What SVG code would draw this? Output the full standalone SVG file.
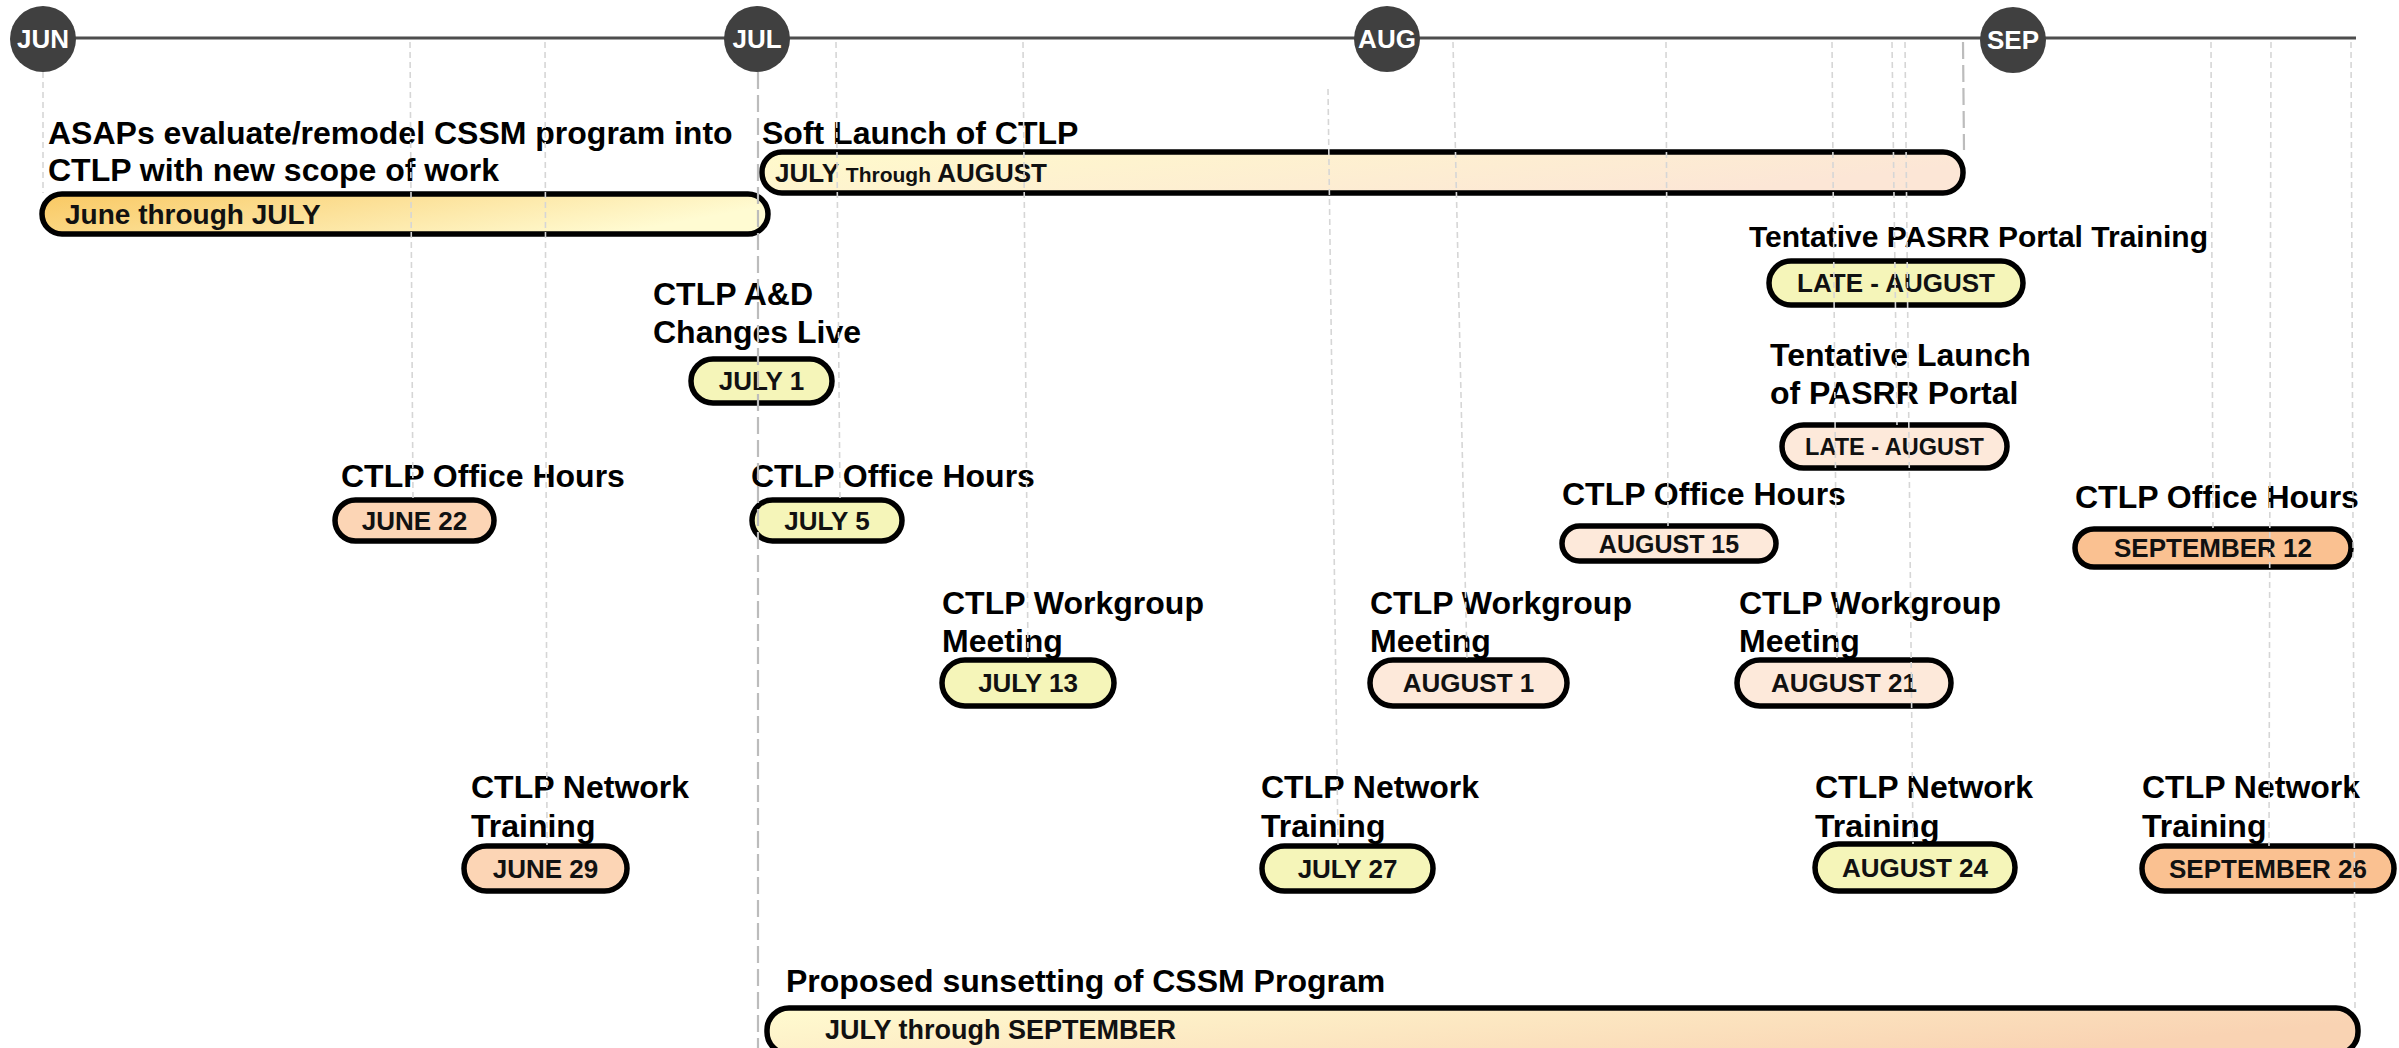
<svg xmlns="http://www.w3.org/2000/svg" width="2399" height="1048" viewBox="0 0 2399 1048">
<defs>
<linearGradient id="gJun" x1="0" y1="0" x2="1" y2="0.3"><stop offset="0" stop-color="#f9c862"/><stop offset="1" stop-color="#fffbd2"/></linearGradient>
<linearGradient id="gSoft" x1="0" y1="0" x2="1" y2="0.3"><stop offset="0" stop-color="#fffacb"/><stop offset="1" stop-color="#fce6d6"/></linearGradient>
<linearGradient id="gSun" x1="0" y1="0" x2="1" y2="0.3"><stop offset="0" stop-color="#fffbd0"/><stop offset="1" stop-color="#f9d3b3"/></linearGradient>
<style>
.lbl{font-family:"Liberation Sans",Arial,sans-serif;font-weight:bold;font-size:32px;fill:#000}
.pt{font-family:"Liberation Sans",Arial,sans-serif;font-weight:bold;font-size:26px;fill:#111;text-anchor:middle}
.bt{font-family:"Liberation Sans",Arial,sans-serif;font-weight:bold;font-size:26px;fill:#111}
.mt{font-family:"Liberation Sans",Arial,sans-serif;font-weight:bold;font-size:26px;fill:#fff;text-anchor:middle}
.pill{stroke:#000;stroke-width:5.5}
.yel{fill:#f5f5b9}.pch{fill:#fcd5b5}.lpc{fill:#fde9da}.org{fill:#fac191}
.conn{stroke:#d6d6d6;stroke-width:1.6;stroke-dasharray:6 4;fill:none}
.conn2{stroke:#bcbcbc;stroke-width:2.2;stroke-dasharray:17 6;fill:none}
.mon{fill:#404040}
</style>
</defs>
<rect width="2399" height="1048" fill="#fff"/>
<g id="timeline">
<line x1="43" y1="38" x2="2356" y2="38" stroke="#4d4d4d" stroke-width="3"/>
</g>
<g id="month-jun"><circle class="mon" cx="43" cy="39" r="33"/><text class="mt" x="43" y="48">JUN</text></g>
<g id="month-jul"><circle class="mon" cx="757" cy="39" r="33"/><text class="mt" x="757" y="48">JUL</text></g>
<g id="month-aug"><circle class="mon" cx="1387" cy="39" r="33"/><text class="mt" x="1387" y="48">AUG</text></g>
<g id="month-sep"><circle class="mon" cx="2013" cy="40" r="33"/><text class="mt" x="2013" y="49">SEP</text></g>

<g id="bar-asaps">
<text class="lbl" x="48" y="144">ASAPs evaluate/remodel CSSM program into</text>
<text class="lbl" x="48" y="181">CTLP with new scope of work</text>
<rect class="pill" x="42" y="194" width="726" height="40" rx="20" fill="url(#gJun)"/>
<text class="bt" x="65" y="224" style="font-size:28px">June through JULY</text>
</g>
<g id="bar-soft">
<text class="lbl" x="762" y="144">Soft Launch of CTLP</text>
<rect class="pill" x="762" y="152" width="1201" height="41" rx="20" fill="url(#gSoft)"/>
<text class="bt" x="775" y="182">JULY <tspan style="font-size:21px">Through</tspan> AUGUST</text>
</g>
<g id="bar-sunset">
<text class="lbl" x="786" y="992">Proposed sunsetting of CSSM Program</text>
<rect class="pill" x="767" y="1008" width="1591" height="46" rx="22" fill="url(#gSun)"/>
<text class="bt" x="825" y="1039" style="font-size:27px">JULY through SEPTEMBER</text>
</g>

<g id="ev-ad">
<text class="lbl" x="653" y="305">CTLP A&amp;D</text>
<text class="lbl" x="653" y="343">Changes Live</text>
<rect class="pill yel" x="691" y="359" width="141" height="44" rx="22"/>
<text class="pt" x="761.5" y="390">JULY 1</text>
</g>
<g id="ev-oh-jun22">
<text class="lbl" x="341" y="487">CTLP Office Hours</text>
<rect class="pill pch" x="335" y="500" width="159" height="41" rx="20.5"/>
<text class="pt" x="414.5" y="530">JUNE 22</text>
</g>
<g id="ev-oh-jul5">
<text class="lbl" x="751" y="487">CTLP Office Hours</text>
<rect class="pill yel" x="752" y="500" width="150" height="41" rx="20.5"/>
<text class="pt" x="827" y="530">JULY 5</text>
</g>
<g id="ev-oh-aug15">
<text class="lbl" x="1562" y="505">CTLP Office Hours</text>
<rect class="pill lpc" x="1562" y="526" width="214" height="35" rx="17.5"/>
<text class="pt" x="1669" y="553" style="font-size:25px">AUGUST 15</text>
</g>
<g id="ev-oh-sep12">
<text class="lbl" x="2075" y="508">CTLP Office Hours</text>
<rect class="pill org" x="2075" y="529" width="276" height="38" rx="19"/>
<text class="pt" x="2213" y="557">SEPTEMBER 12</text>
</g>
<g id="ev-wg-jul13">
<text class="lbl" x="942" y="614">CTLP Workgroup</text>
<text class="lbl" x="942" y="652">Meeting</text>
<rect class="pill yel" x="942" y="660" width="172" height="46" rx="23"/>
<text class="pt" x="1028" y="692">JULY 13</text>
</g>
<g id="ev-wg-aug1">
<text class="lbl" x="1370" y="614">CTLP Workgroup</text>
<text class="lbl" x="1370" y="652">Meeting</text>
<rect class="pill lpc" x="1370" y="660" width="197" height="46" rx="23"/>
<text class="pt" x="1468.5" y="692">AUGUST 1</text>
</g>
<g id="ev-wg-aug21">
<text class="lbl" x="1739" y="614">CTLP Workgroup</text>
<text class="lbl" x="1739" y="652">Meeting</text>
<rect class="pill lpc" x="1737" y="660" width="214" height="46" rx="23"/>
<text class="pt" x="1844" y="692">AUGUST 21</text>
</g>
<g id="ev-nt-jun29">
<text class="lbl" x="471" y="798">CTLP Network</text>
<text class="lbl" x="471" y="837">Training</text>
<rect class="pill pch" x="464" y="846" width="163" height="45" rx="22.5"/>
<text class="pt" x="545.5" y="878">JUNE 29</text>
</g>
<g id="ev-nt-jul27">
<text class="lbl" x="1261" y="798">CTLP Network</text>
<text class="lbl" x="1261" y="837">Training</text>
<rect class="pill yel" x="1262" y="846" width="171" height="45" rx="22.5"/>
<text class="pt" x="1347.5" y="878">JULY 27</text>
</g>
<g id="ev-nt-aug24">
<text class="lbl" x="1815" y="798">CTLP Network</text>
<text class="lbl" x="1815" y="837">Training</text>
<rect class="pill yel" x="1815" y="844" width="200" height="47" rx="23.5"/>
<text class="pt" x="1915" y="877">AUGUST 24</text>
</g>
<g id="ev-nt-sep26">
<text class="lbl" x="2142" y="798">CTLP Network</text>
<text class="lbl" x="2142" y="837">Training</text>
<rect class="pill org" x="2142" y="846" width="252" height="45" rx="22.5"/>
<text class="pt" x="2268" y="878">SEPTEMBER 26</text>
</g>
<g id="ev-pasrr-training">
<text class="lbl" x="1749" y="247" style="font-size:30px">Tentative PASRR Portal Training</text>
<rect class="pill yel" x="1769" y="261" width="254" height="44" rx="22"/>
<text class="pt" x="1896" y="292">LATE - AUGUST</text>
</g>
<g id="ev-pasrr-launch">
<text class="lbl" x="1770" y="366">Tentative Launch</text>
<text class="lbl" x="1770" y="404">of PASRR Portal</text>
<rect class="pill lpc" x="1782" y="425" width="225" height="43" rx="21.5"/>
<text class="pt" x="1894.5" y="455" style="font-size:23.5px">LATE - AUGUST</text>
</g>

<g id="connectors">
<line class="conn" x1="43" y1="72" x2="43" y2="193"/>
<line class="conn" x1="410" y1="42" x2="413" y2="499"/>
<line class="conn" x1="545" y1="42" x2="547" y2="845"/>
<line class="conn2" x1="758" y1="72" x2="758" y2="1048"/>
<line class="conn" x1="836" y1="42" x2="840" y2="500"/>
<line class="conn" x1="1023" y1="42" x2="1028" y2="660"/>
<line class="conn" x1="1328" y1="89" x2="1338" y2="845"/>
<line class="conn" x1="1453" y1="42" x2="1467" y2="660"/>
<line class="conn" x1="1666" y1="42" x2="1668" y2="526"/>
<line class="conn" x1="1832" y1="42" x2="1837" y2="660"/>
<line class="conn" x1="1892" y1="42" x2="1897" y2="425"/>
<line class="conn" x1="1905" y1="42" x2="1913" y2="844"/>
<line class="conn2" x1="1963" y1="42" x2="1964" y2="150"/>
<line class="conn" x1="2211" y1="42" x2="2213" y2="529"/>
<line class="conn" x1="2271" y1="42" x2="2269" y2="846"/>
<line class="conn" x1="2351" y1="42" x2="2355" y2="1008"/>
</g>
</svg>
